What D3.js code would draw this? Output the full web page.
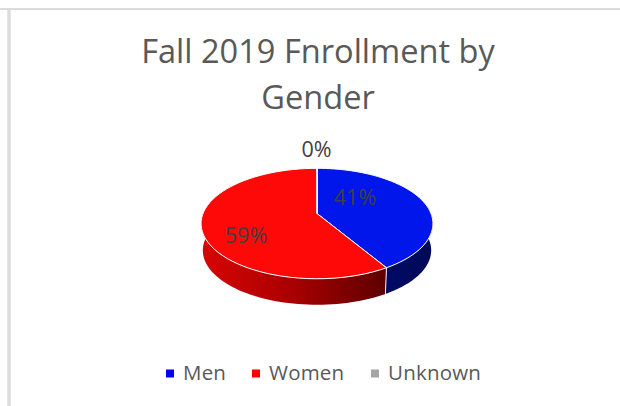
<!DOCTYPE html>
<html><head><meta charset="utf-8">
<script src="https://cdn.jsdelivr.net/npm/d3@7/dist/d3.min.js"></script>
<style>html,body{margin:0;padding:0;background:#fff}svg{display:block}text{font-family:"Open Sans",sans-serif}</style>
</head><body><svg id="c" width="620" height="406"></svg>
<script>
const categories = ["Men", "Women", "Unknown"];
const values = [41.4, 58.6, 0];
const colors = ["#0016ea", "#ff0808", "#a5a5a5"];
const legendColors = ["#0000ff", "#ff0000", "#a5a5a5"];
const titleLines = ["Fall 2019 Fnrollment by", "Gender"];

const svg = d3.select("#c");
const defs = svg.append("defs");
const cx = 317, hubY = 213.5, k = 0.1818, A = 53.4, B = 114, depth = 27, shrink = 0.985;

// perspective projection of the unit disc onto the screen
const proj = (a, r = 1, base = false) => {
  const u = r * Math.sin(a), v = r * Math.cos(a), w = 1 + k * v;
  const s = base ? shrink : 1;
  return [cx + s * B * u / w, hubY + (base ? depth : 0) - s * A * v / w];
};
const arcPts = (a0, a1, base) => d3.range(0, 61).map(i => proj(a0 + (a1 - a0) * i / 60, 1, base));
const line = d3.line();

const pie = d3.pie().sort(null).value(d => d);
const slices = pie(values);

// frame
svg.append("line").attr("x1", 0).attr("x2", 620).attr("y1", 9).attr("y2", 9).attr("stroke", "#dcdcdc").attr("stroke-width", 2);
svg.append("line").attr("x1", 9).attr("x2", 9).attr("y1", 8).attr("y2", 406).attr("stroke", "#dcdcdc").attr("stroke-width", 3.5);

// title
svg.selectAll("text.title").data(titleLines).join("text").attr("class", "title")
  .attr("x", 318).attr("y", (d, i) => 63 + i * 45.5).attr("text-anchor", "middle")
  .attr("font-size", 32.6).attr("fill", "#595959").text(d => d);

// side-wall gradients
const sideStops = [
  [["0%", "#d80404"], ["50%", "#a80000"], ["100%", "#5c0000"]],
  [["0%", "#000a66"], ["100%", "#000a55"]]
];
["sideRed", "sideBlue"].forEach((id, i) => {
  const g = defs.append("linearGradient").attr("id", id).attr("x1", 0).attr("x2", 1).attr("y1", 0).attr("y2", 0);
  sideStops[i].forEach(s => g.append("stop").attr("offset", s[0]).attr("stop-color", s[1]));
});

// side walls (only the front-facing angle range)
const visLo = 80 * Math.PI / 180, visHi = 272 * Math.PI / 180;
const sideFill = ["url(#sideBlue)", "url(#sideRed)"];
slices.slice(0, 2).forEach((s, i) => {
  const a0 = Math.max(s.startAngle, visLo), a1 = Math.min(s.endAngle, visHi);
  svg.append("path")
    .attr("d", line(arcPts(a0, a1, false).concat(arcPts(a0, a1, true).reverse())) + "Z")
    .attr("fill", sideFill[i]);
});
// divider on the front wall
const divA = slices[0].endAngle;
svg.append("line").attr("x1", proj(divA)[0]).attr("y1", proj(divA)[1])
  .attr("x2", proj(divA, 1, true)[0]).attr("y2", proj(divA, 1, true)[1])
  .attr("stroke", "#f4f4f4").attr("stroke-width", 1);

// top faces
svg.selectAll("path.top").data(slices).join("path").attr("class", "top")
  .attr("d", s => line([proj(0, 0)].concat(arcPts(s.startAngle, s.endAngle, false))) + "Z")
  .attr("fill", (s, i) => colors[i]).attr("stroke", "#fff").attr("stroke-width", 1).attr("stroke-linejoin", "round");

// data labels
const labelPos = [[355, 204.5], [246, 242.5], [316.5, 156.5]];
svg.selectAll("text.lab").data(values).join("text").attr("class", "lab")
  .attr("x", (d, i) => labelPos[i][0]).attr("y", (d, i) => labelPos[i][1])
  .attr("text-anchor", "middle").attr("font-size", 21.5).attr("fill", "#404040")
  .text(d => Math.round(d) + "%");

// legend
const legendSquareX = [166, 252, 371], legendTextX = [183, 269, 388];
categories.forEach((c, i) => {
  svg.append("rect").attr("x", legendSquareX[i]).attr("y", 369.5).attr("width", 8).attr("height", 8).attr("fill", legendColors[i]);
  svg.append("text").attr("x", legendTextX[i]).attr("y", 380).attr("font-size", 20.5).attr("letter-spacing", 0.2)
    .attr("fill", "#595959").text(c);
});
</script></body></html>
